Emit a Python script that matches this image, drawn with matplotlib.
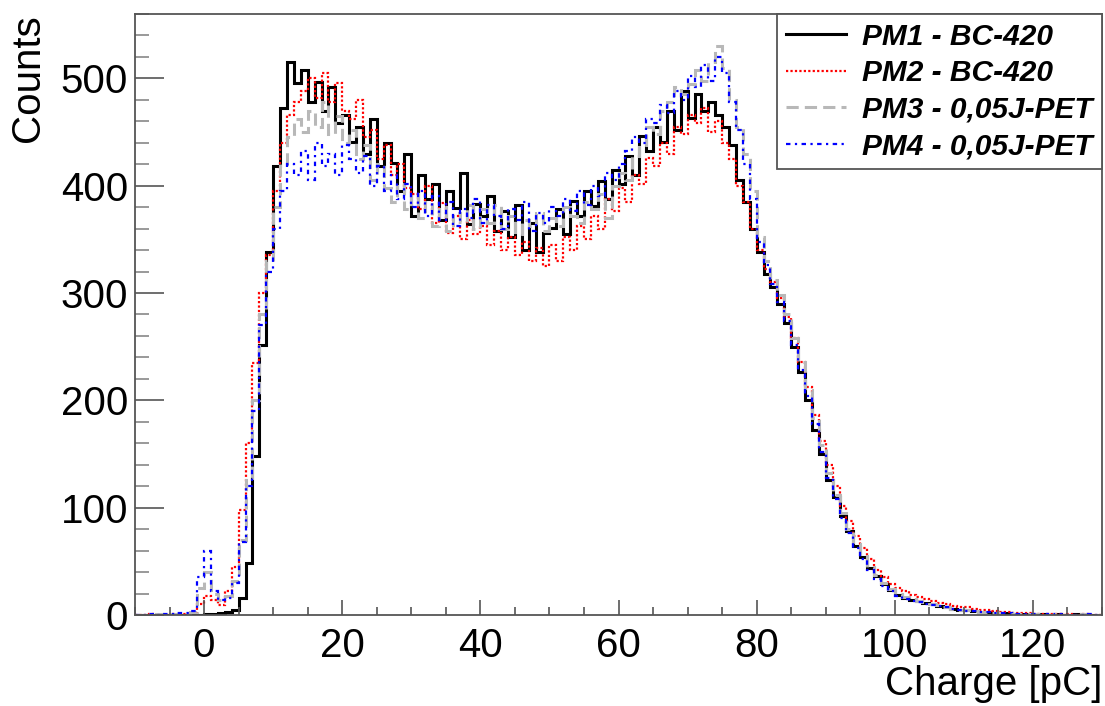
import numpy as np
import matplotlib
matplotlib.use('Agg')
import matplotlib.pyplot as plt
from matplotlib.ticker import MultipleLocator

plt.rcParams['font.family'] = ['Liberation Sans', 'DejaVu Sans']

# charge histogram, 1 pC bins from -10 to 130 pC
bin_edges = np.arange(-10, 131, 1)

pm1_counts = [
    0, 0, 0, 0, 0, 0, 0, 0, 0, 0,
    1, 1, 2, 3, 5, 16, 48, 148, 252, 338,
    418, 472, 515, 496, 508, 478, 497, 470, 492, 458,
    466, 441, 455, 430, 462, 418, 440, 421, 395, 430,
    372, 410, 388, 402, 368, 395, 379, 412, 364, 383,
    372, 390, 358, 376, 352, 382, 340, 365, 338, 356,
    361, 378, 355, 386, 372, 395, 381, 404, 388, 415,
    402, 428, 410, 446, 432, 455, 441, 470, 452, 488,
    463, 485, 470, 478, 466, 455, 438, 405, 385, 360,
    338, 318, 306, 290, 272, 250, 226, 200, 172, 150,
    126, 110, 92, 78, 64, 54, 44, 36, 29, 23,
    19, 16, 14, 13, 11, 10, 8, 7, 6, 5,
    5, 4, 3, 3, 2, 2, 2, 1, 1, 1,
    1, 1, 0, 1, 0, 0, 1, 0, 0, 0,
]
pm2_counts = [
    0, 0, 1, 0, 0, 1, 0, 1, 2, 10,
    18, 14, 9, 22, 45, 98, 160, 235, 300, 335,
    395, 440, 466, 478, 488, 500, 482, 505, 478, 496,
    470, 462, 480, 445, 452, 425, 438, 410, 420, 398,
    392, 378, 400, 365, 384, 356, 372, 350, 368, 355,
    362, 345, 358, 340, 352, 335, 348, 330, 342, 325,
    345, 330, 352, 340, 362, 350, 372, 360, 388, 376,
    398, 385, 410, 402, 426, 418, 440, 430, 455, 448,
    466, 458, 472, 450, 460, 440, 425, 400, 385, 360,
    340, 322, 310, 295, 278, 258, 236, 212, 186, 162,
    140, 120, 102, 88, 74, 62, 52, 42, 35, 29,
    25, 22, 19, 17, 15, 13, 11, 10, 8, 7,
    7, 6, 5, 5, 4, 3, 3, 2, 2, 2,
    1, 1, 1, 1, 0, 1, 0, 1, 0, 0,
]
pm3_counts = [
    0, 0, 0, 1, 0, 1, 1, 2, 3, 25,
    40, 20, 14, 18, 32, 70, 128, 200, 280, 330,
    380, 420, 445, 462, 450, 470, 455, 478, 448, 465,
    440, 452, 425, 438, 405, 420, 398, 385, 402, 378,
    392, 370, 385, 362, 380, 358, 375, 366, 382, 360,
    378, 365, 382, 360, 372, 355, 368, 362, 375, 358,
    370, 362, 380, 372, 365, 385, 378, 392, 370, 400,
    412, 405, 428, 438, 455, 448, 470, 478, 492, 485,
    495, 508, 498, 515, 530, 510, 480, 455, 430, 395,
    352, 330, 312, 298, 280, 258, 236, 210, 184, 158,
    132, 112, 95, 80, 66, 55, 45, 37, 30, 24,
    20, 17, 15, 13, 12, 10, 9, 7, 6, 5,
    5, 4, 3, 3, 2, 2, 2, 1, 1, 1,
    1, 1, 0, 1, 0, 0, 0, 1, 0, 0,
]
pm4_counts = [
    0, 0, 1, 0, 1, 1, 2, 2, 4, 35,
    60, 22, 14, 16, 30, 68, 120, 190, 270, 320,
    360, 395, 420, 410, 432, 405, 440, 418, 430, 410,
    438, 425, 412, 428, 400, 418, 395, 410, 388, 402,
    380, 395, 372, 390, 368, 385, 362, 378, 370, 388,
    365, 382, 372, 360, 378, 368, 385, 358, 375, 365,
    380, 372, 388, 376, 395, 382, 400, 390, 412, 405,
    420, 432, 445, 440, 462, 458, 475, 468, 488, 480,
    502, 492, 512, 498, 520, 505, 478, 452, 420, 388,
    348, 326, 308, 292, 274, 252, 228, 204, 178, 152,
    128, 108, 90, 76, 62, 52, 42, 34, 27, 22,
    18, 15, 13, 12, 10, 9, 8, 7, 6, 5,
    4, 4, 3, 3, 2, 2, 2, 1, 1, 1,
    1, 0, 1, 0, 1, 0, 0, 0, 1, 0,
]
labels = ['PM1 - BC-420', 'PM2 - BC-420', 'PM3 - 0,05J-PET', 'PM4 - 0,05J-PET']

fig = plt.figure(figsize=(11.05, 7.06), dpi=100)
ax = fig.add_axes([0.1222, 0.1289, 0.8751, 0.8513])

ax.stairs(pm1_counts, bin_edges, color='black', lw=2.2, label=labels[0])
ax.stairs(pm2_counts, bin_edges, color='red', lw=1.6, ls=(0, (1, 1)), label=labels[1])
ax.stairs(pm3_counts, bin_edges, color='#b8b8b8', lw=2.2, ls=(0, (4, 2)), label=labels[2])
ax.stairs(pm4_counts, bin_edges, color='blue', lw=1.6, ls=(0, (2, 2, 1, 2)), label=labels[3])

ax.set_xlim(-10, 130)
ax.set_ylim(0, 560)

ax.xaxis.set_major_locator(MultipleLocator(20))
ax.xaxis.set_minor_locator(MultipleLocator(5))
ax.yaxis.set_major_locator(MultipleLocator(100))
ax.yaxis.set_minor_locator(MultipleLocator(20))

for s in ax.spines.values():
    s.set_color('#555555')
    s.set_linewidth(1.3)
ax.tick_params(axis='both', which='both', direction='in', colors='#555555',
               labelcolor='black', labelsize=29, width=1.2, top=False, right=False)
ax.tick_params(axis='x', which='major', length=11, pad=9)
ax.tick_params(axis='x', which='minor', length=6)
ax.tick_params(axis='y', which='major', length=21, pad=5)
ax.tick_params(axis='y', which='minor', length=10, color='#888888')

ax.set_xlabel('Charge [pC]', fontsize=29, loc='right', labelpad=0)
ax.set_ylabel('Counts', fontsize=29, loc='top', labelpad=10)

leg = ax.legend(loc='upper right', bbox_to_anchor=(1.0, 1.0), borderaxespad=0,
                fancybox=False, framealpha=1, edgecolor='#555555',
                prop={'weight': 'bold', 'style': 'italic', 'size': 21.5},
                handlelength=2.0, handletextpad=0.55, labelspacing=0.28,
                borderpad=0.3)
leg.get_frame().set_linewidth(1.3)

fig.savefig('out.png', dpi=100)
